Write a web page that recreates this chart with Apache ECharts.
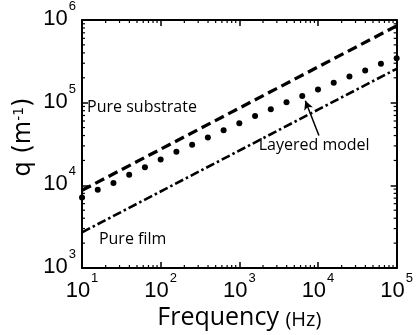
<!DOCTYPE html>
<html><head><meta charset="utf-8">
<script src="https://cdn.jsdelivr.net/npm/echarts@6/dist/echarts.min.js"></script>
<style>html,body{margin:0;padding:0;background:#fff}#c{width:416px;height:335px}</style>
</head><body><div id="c"></div>
<script>
const freq = [10, 15.85, 25.12, 39.81, 63.10, 100, 158.5, 251.2, 398.1, 631.0, 1000, 1585, 2512, 3981, 6310, 10000, 15850, 25120, 39810, 63100, 100000];
const layered = [7110, 8870, 10660, 13450, 16600, 20560, 25470, 30930, 37880, 46380, 56330, 68770, 83000, 100900, 120500, 144600, 174200, 207300, 245000, 295100, 345600];
const substrateF = [10, 100000];
const substrateQ = [8700, 850000];
const filmF = [10, 100000];
const filmQ = [2700, 257000];
const xDecades = [10, 100, 1000, 10000, 100000];
const yDecades = [1000, 10000, 100000, 1000000];
const annotations = [
  {text: 'Pure substrate', f: 11.6, q: 87000},
  {text: 'Pure film', f: 16.4, q: 2230},
  {text: 'Layered model', f: 1762, q: 30300}
];
const arrowFrom = [10280, 40000];
const arrowTo = [6900, 105700];

const xMinor = [], yMinor = [];
xDecades.slice(0, -1).forEach(d => { for (let m = 2; m <= 9; m++) xMinor.push(d * m); });
yDecades.slice(0, -1).forEach(d => { for (let m = 2; m <= 9; m++) yMinor.push(d * m); });

const FONT = 'Liberation Sans';
const ANN = 'Open Sans';
const tickRich = {
  b: {fontSize: 22, fontFamily: FONT, color: '#000', verticalAlign: 'bottom'},
  s: {fontSize: 13, fontFamily: FONT, color: '#000', verticalAlign: 'bottom', padding: [0, 0, 17, 1]}
};
const fmt = v => '{b|10}{s|' + Math.round(Math.log10(v)) + '}';
const axisCommon = {
  type: 'log', logBase: 10,
  axisLine: {show: true, lineStyle: {color: '#000', width: 2}},
  axisTick: {show: true, inside: true, length: 6, lineStyle: {color: '#000', width: 1.5}},
  splitLine: {show: false},
  minorTick: {show: false}
};

const chart = echarts.init(document.getElementById('c'), null, {renderer: 'canvas'});
chart.setOption({
  animation: false,
  backgroundColor: '#fff',
  grid: {left: 82, top: 19, right: 17, bottom: 67, containLabel: false},
  xAxis: [
    Object.assign({}, axisCommon, {
      min: 10, max: 100000, position: 'bottom',
      axisLabel: {formatter: fmt, rich: tickRich, margin: 4},
      name: '{a|Frequency }{h|(Hz)}', nameLocation: 'middle', nameGap: 37, nameMoveOverlap: false,
      nameTextStyle: {rich: {
        a: {fontSize: 25, fontFamily: ANN, color: '#000', verticalAlign: 'bottom'},
        h: {fontSize: 20, fontFamily: ANN, color: '#000', verticalAlign: 'bottom'}
      }}
    }),
    Object.assign({}, axisCommon, {min: 10, max: 100000, position: 'top', axisLabel: {show: false}})
  ],
  yAxis: [
    Object.assign({}, axisCommon, {
      min: 1000, max: 1000000, position: 'left',
      axisLabel: {formatter: fmt, rich: tickRich, margin: 6, padding: [0, 0, 10, 0]},
      name: '{a|q (m}{s|-1}{a|)}', nameLocation: 'middle', nameGap: 46, nameRotate: 90, nameMoveOverlap: false,
      nameTextStyle: {padding: [0, 0, 0, 14], rich: {
        a: {fontSize: 24, fontFamily: 'DejaVu Sans', color: '#000'},
        s: {fontSize: 14, fontFamily: 'DejaVu Sans', color: '#000', verticalAlign: 'top'}
      }}
    }),
    Object.assign({}, axisCommon, {min: 1000, max: 1000000, position: 'right', axisLabel: {show: false}})
  ],
  series: [
    {
      name: 'Pure substrate', type: 'line', xAxisIndex: 0, yAxisIndex: 0,
      data: substrateF.map((f, i) => [f, substrateQ[i]]),
      symbol: 'none', lineStyle: {color: '#000', width: 3.3, type: [10, 5]}
    },
    {
      name: 'Pure film', type: 'line', xAxisIndex: 0, yAxisIndex: 0,
      data: filmF.map((f, i) => [f, filmQ[i]]),
      symbol: 'none', lineStyle: {color: '#000', width: 2.6, type: [9, 3, 2.5, 3]}
    },
    {
      name: 'Layered model', type: 'scatter', xAxisIndex: 0, yAxisIndex: 0,
      data: freq.map((f, i) => [f, layered[i]]),
      symbol: 'circle', symbolSize: 6, itemStyle: {color: '#000', opacity: 1}, clip: false,
      markLine: {
        silent: true, symbol: ['none', 'arrow'], symbolSize: [7, 9],
        lineStyle: {color: '#000', width: 1.5, type: 'solid', opacity: 1},
        label: {show: false},
        data: [[{coord: arrowFrom}, {coord: arrowTo}]]
      }
    },
    {
      name: 'annotations', type: 'scatter', xAxisIndex: 0, yAxisIndex: 0,
      data: annotations.map(a => ({value: [a.f, a.q], name: a.text})),
      symbolSize: 0, silent: true, itemStyle: {opacity: 1},
      label: {show: true, position: 'right', distance: 0, formatter: p => p.name,
        fontSize: 16, fontFamily: ANN, color: '#000', opacity: 1}
    },
    {
      name: 'minorTicks', type: 'custom', xAxisIndex: 0, yAxisIndex: 0,
      silent: true, clip: false, data: [[10, 1000]],
      renderItem: (params, api) => {
        const tl = api.coord([10, 1000000]);
        const br = api.coord([100000, 1000]);
        const st = {stroke: '#000', lineWidth: 1.2};
        const ch = [];
        xMinor.forEach(v => {
          const x = api.coord([v, 1000])[0];
          ch.push({type: 'line', shape: {x1: x, y1: br[1], x2: x, y2: br[1] - 3}, style: st});
          ch.push({type: 'line', shape: {x1: x, y1: tl[1], x2: x, y2: tl[1] + 3}, style: st});
        });
        yMinor.forEach(v => {
          const y = api.coord([10, v])[1];
          ch.push({type: 'line', shape: {x1: tl[0], y1: y, x2: tl[0] + 3, y2: y}, style: st});
          ch.push({type: 'line', shape: {x1: br[0], y1: y, x2: br[0] - 3, y2: y}, style: st});
        });
        return {type: 'group', children: ch};
      }
    }
  ]
});
</script></body></html>
